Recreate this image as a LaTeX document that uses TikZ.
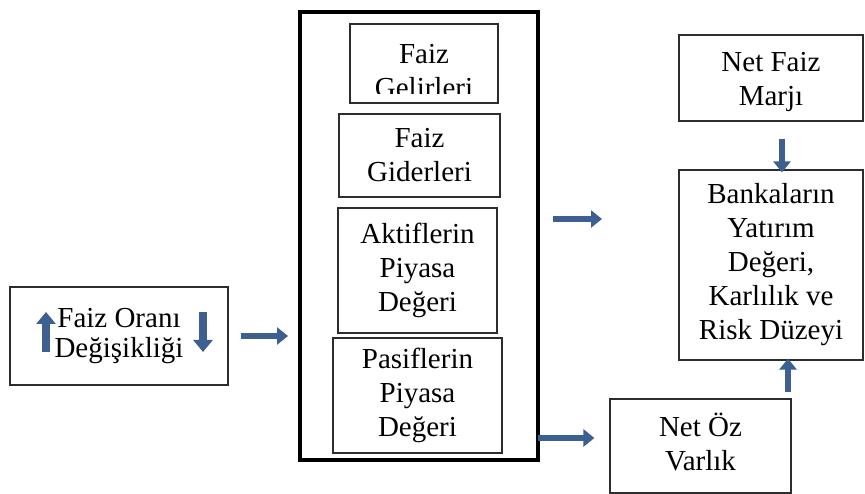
\documentclass[tikz,border=0pt]{standalone}
\usepackage{fontspec}
\setmainfont{Liberation Serif}
\usetikzlibrary{arrows.meta}
\definecolor{arrowblue}{RGB}{62,96,145}
\definecolor{boxgray}{RGB}{45,45,45}
\tikzset{
  box/.style={draw=boxgray, line width=1.2pt, rectangle, align=center, inner sep=0pt,
    font=\fontsize{29}{34}\selectfont},
  bigbox/.style={draw=black, line width=4pt, rectangle, inner sep=0pt},
  txt/.style={align=center, inner sep=0pt, font=\fontsize{29}{34}\selectfont},
  blockarrow/.style={draw=arrowblue, line width=6.5pt, -{Triangle[length=11pt,width=17pt]}},
  bigarrow/.style={draw=arrowblue, line width=8pt, -{Triangle[length=12pt,width=19pt]}}
}
\begin{document}
\begin{tikzpicture}[x=1pt,y=-1pt]
\useasboundingbox (0,0) rectangle (865,494);
% left box
\node[box, minimum width=218pt, minimum height=98pt, font=\fontsize{29}{30}\selectfont] (rate) at (119,336) {Faiz Oranı\\Değişikliği};
% big group box
\node[bigbox, minimum width=238pt, minimum height=448pt] (group) at (419,236) {};
% inner boxes
\node[box, minimum width=148pt, minimum height=79pt] (gel) at (424,63.5) {};
\begin{scope}
  \clip (350,24) rectangle (498,94);
  \node[txt] (gelt) at (424,71) {Faiz\\Gelirleri};
\end{scope}
\node[box, minimum width=161pt, minimum height=83pt] (gid) at (419.5,155.5) {Faiz\\Giderleri};
\node[box, minimum width=159pt, minimum height=125pt] (akt) at (417.5,270.5) {Aktiflerin\\Piyasa\\Değeri};
\node[box, minimum width=169pt, minimum height=115pt] (pas) at (417.5,395.5) {Pasiflerin\\Piyasa\\Değeri};
% right boxes
\node[box, minimum width=184pt, minimum height=86pt] (nfm) at (771,78) {};
\node[txt] (nfmt) at (771,82) {Net Faiz\\Marjı};
\node[box, minimum width=184pt, minimum height=190pt] (bank) at (771,265) {Bankaların\\Yatırım\\Değeri,\\Karlılık ve\\Risk Düzeyi};
\node[box, minimum width=181pt, minimum height=94pt] (noz) at (700.5,446) {};
\node[txt] (nozt) at (700.5,442) {Net Öz\\Varlık};
% coordinates
\coordinate (upS) at (46,352);
\coordinate (upE) at (46,312);
\coordinate (dnS) at (203,312);
\coordinate (dnE) at (203,352);
\coordinate (a2s) at (553,219);
\coordinate (a2e) at (602,219);
\coordinate (a3s) at (538,438);
\coordinate (a4x) at (782,0);
\coordinate (a5x) at (788,0);
% arrows
\draw[bigarrow] (upS) -- (upE);
\draw[bigarrow] (dnS) -- (dnE);
\draw[blockarrow, shorten <=12pt, shorten >=10pt] (rate.east) -- (rate.east -| group.west);
\draw[blockarrow] (a2s) -- (a2e);
\draw[blockarrow, shorten >=15pt] (a3s) -- (a3s -| noz.west);
\draw[blockarrow, shorten <=17pt, shorten >=-3pt] (nfm.south -| a4x) -- (bank.north -| a4x);
\draw[blockarrow, shorten <=6pt, shorten >=-2pt] (noz.north -| a5x) -- (bank.south -| a5x);
\end{tikzpicture}
\end{document}
